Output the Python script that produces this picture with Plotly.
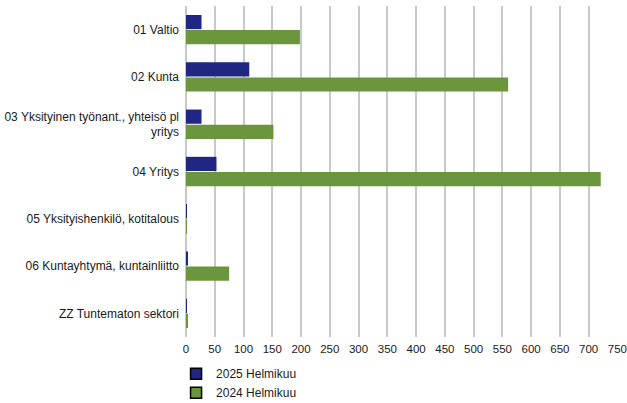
import plotly.graph_objects as go

categories = [
    "01 Valtio",
    "02 Kunta",
    "03 Yksityinen työnant., yhteisö pl<br>yritys",
    "04 Yritys",
    "05 Yksityishenkilö, kotitalous",
    "06 Kuntayhtymä, kuntainliitto",
    "ZZ Tuntematon sektori",
]
s2025_name = "2025 Helmikuu"
s2025 = [27, 110, 27, 53, 1, 3, 1]
s2024_name = "2024 Helmikuu"
s2024 = [198, 560, 152, 721, 1, 75, 3]
x_ticks = list(range(0, 751, 50))

navy = "#212683"
green = "#6b963d"

fig = go.Figure()
fig.add_trace(go.Bar(y=categories, x=s2025, name=s2025_name, orientation="h",
                     marker=dict(color=navy, line=dict(width=0)), showlegend=False))
fig.add_trace(go.Bar(y=categories, x=s2024, name=s2024_name, orientation="h",
                     marker=dict(color=green, line=dict(width=0)), showlegend=False))
# legend entries with black outlined swatches (do not occupy bar slots)
fig.add_trace(go.Scatter(x=[None], y=[None], mode="markers", name=s2025_name,
                         marker=dict(symbol="square", size=11, color=navy,
                                     line=dict(color="black", width=1.5))))
fig.add_trace(go.Scatter(x=[None], y=[None], mode="markers", name=s2024_name,
                         marker=dict(symbol="square", size=11, color=green,
                                     line=dict(color="black", width=1.5))))

fig.update_layout(
    width=627, height=403,
    margin=dict(l=186, r=9, t=6, b=66, autoexpand=False),
    paper_bgcolor="white", plot_bgcolor="white",
    font=dict(family="Liberation Sans, Arial, sans-serif", size=12, color="#1a1a1a"),
    barmode="group", bargap=0.36, bargroupgap=0.06,
    legend=dict(x=-0.023, xanchor="left", y=-0.067, yanchor="top",
                bgcolor="rgba(0,0,0,0)", font=dict(size=12),
                tracegroupgap=0, itemwidth=30),
    xaxis=dict(range=[0, 751], tickvals=x_ticks, showgrid=True,
               gridcolor="#c8c8c8", gridwidth=1.5, zeroline=True,
               zerolinecolor="#c8c8c8", zerolinewidth=1.5, showline=False,
               ticks="", tickfont=dict(size=11.5), automargin=False,
               ticklabelstandoff=3, ticklabeloverflow="allow"),
    yaxis=dict(autorange="reversed", showgrid=False, ticks="", showline=False,
               tickfont=dict(size=12), automargin=False, ticklabelstandoff=6),
)
fig.write_html("out.html", config={"displayModeBar": False},
               post_script="document.body.style.margin='0';")
